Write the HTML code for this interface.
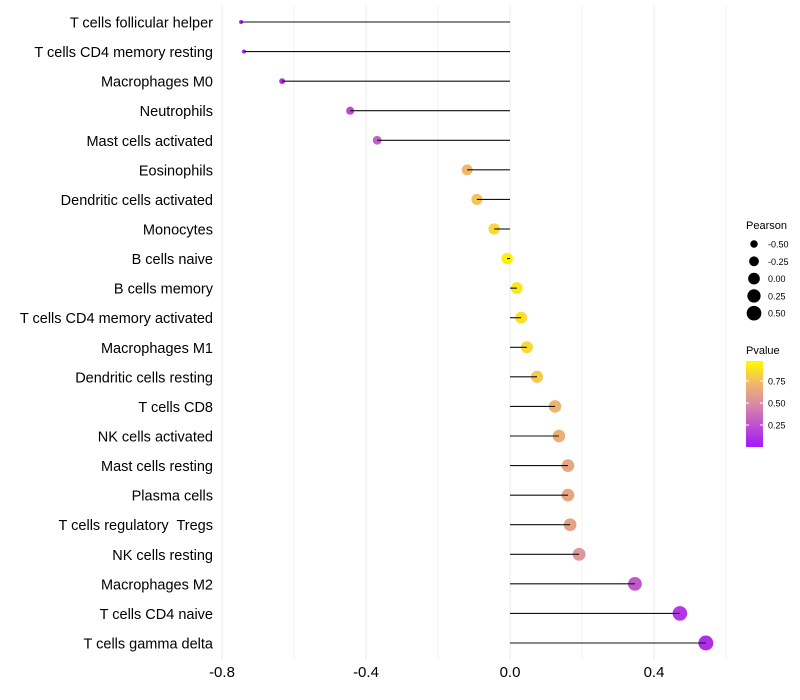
<!DOCTYPE html>
<html><head><meta charset="utf-8"><style>
body{margin:0;background:#fff;}
svg{font-family:"Liberation Sans",sans-serif;display:block;}
text{white-space:pre;}
</style></head><body>
<svg id="chart" width="800" height="700"></svg>
<script>
const categories=["T cells follicular helper","T cells CD4 memory resting","Macrophages M0","Neutrophils","Mast cells activated","Eosinophils","Dendritic cells activated","Monocytes","B cells naive","B cells memory","T cells CD4 memory activated","Macrophages M1","Dendritic cells resting","T cells CD8","NK cells activated","Mast cells resting","Plasma cells","T cells regulatory  Tregs","NK cells resting","Macrophages M2","T cells CD4 naive","T cells gamma delta"];
const pearson=[-0.747,-0.739,-0.633,-0.444,-0.369,-0.119,-0.092,-0.044,-0.008,0.019,0.031,0.047,0.075,0.125,0.136,0.161,0.161,0.167,0.192,0.347,0.472,0.544];
const pvalues=[0.03,0.03,0.08,0.2,0.3,0.74,0.8,0.88,0.98,0.93,0.91,0.88,0.82,0.72,0.7,0.65,0.65,0.63,0.56,0.27,0.12,0.08];
const xTicks=[-0.8,-0.4,0.0,0.4];
const xMinor=[-0.6,-0.2,0.2,0.6];
const sizeLegend=[-0.5,-0.25,0,0.25,0.5];
const pTicks=[0.25,0.5,0.75];

const svg=document.getElementById('chart');
const NS='http://www.w3.org/2000/svg';
function mk(t,a,p){const e=document.createElementNS(NS,t);for(const k in a)e.setAttribute(k,a[k]);(p||svg).appendChild(e);return e;}
const xS=v=>510+v*360;
const yS=i=>22+i*(621/21);
const rS=v=>Math.sqrt(Math.max(3,4+(v+0.75)*40));
const stops=[[0,[165,30,245]],[0.5,[217,140,165]],[0.75,[240,184,106]],[1,[255,246,0]]];
function col(p){for(let i=1;i<stops.length;i++){if(p<=stops[i][0]){const a=stops[i-1],b=stops[i],t=(p-a[0])/(b[0]-a[0]);return 'rgb('+a[1].map((c,j)=>Math.round(c+(b[1][j]-c)*t)).join(',')+')';}}return 'rgb(255,246,0)';}

xMinor.forEach(v=>{const l=mk('line',{x1:xS(v),x2:xS(v),y1:5,y2:660,stroke:'#f3f3f3','stroke-width':1});

});
xTicks.forEach(v=>{const l=mk('line',{x1:xS(v),x2:xS(v),y1:5,y2:660,stroke:'#ebebeb','stroke-width':1});


const t=mk('text',{x:xS(v),y:677,'text-anchor':'middle','font-size':15,fill:'#000'});t.textContent=v.toFixed(1);

});

categories.forEach((c,i)=>{
const y=yS(i);
const t=mk('text',{x:213,y:y+5.5,'text-anchor':'end','font-size':14.5,fill:'#000'});t.textContent=c;


const d=mk('circle',{cx:xS(pearson[i]),cy:y,r:rS(pearson[i]),fill:col(pvalues[i])});


const l=mk('line',{x1:xS(0),x2:xS(pearson[i]),y1:y,y2:y,stroke:'#111','stroke-width':1.1});


});

const g=mk('g',{});


const st=mk('text',{x:746,y:229,'font-size':11},g);st.textContent='Pearson';
sizeLegend.forEach((v,i)=>{const y=244+i*17.3;
const c=mk('circle',{cx:754,cy:y,r:rS(v),fill:'#000'},g);


const t=mk('text',{x:768,y:y+3.5,'font-size':9},g);t.textContent=v.toFixed(2);});

const g2=mk('g',{});


const pt=mk('text',{x:746,y:354,'font-size':11},g2);pt.textContent='Pvalue';
const defs=mk('defs',{});const lg=mk('linearGradient',{id:'pg',x1:0,y1:1,x2:0,y2:0},defs);
const y0=447,y1=359;
stops.forEach(s=>mk('stop',{offset:((0.03+s[0]*0.95)),'stop-color':col(s[0])},lg));
mk('rect',{x:746,y:361,width:17,height:86,fill:'url(#pg)'},g2);
pTicks.forEach(p=>{const y=y0-(y0-y1)*p;
mk('line',{x1:746,x2:749,y1:y,y2:y,stroke:'#fff'},g2);mk('line',{x1:760,x2:763,y1:y,y2:y,stroke:'#fff'},g2);
const t=mk('text',{x:768,y:y+3.5,'font-size':9},g2);t.textContent=p.toFixed(2);});
</script>
</body></html>
